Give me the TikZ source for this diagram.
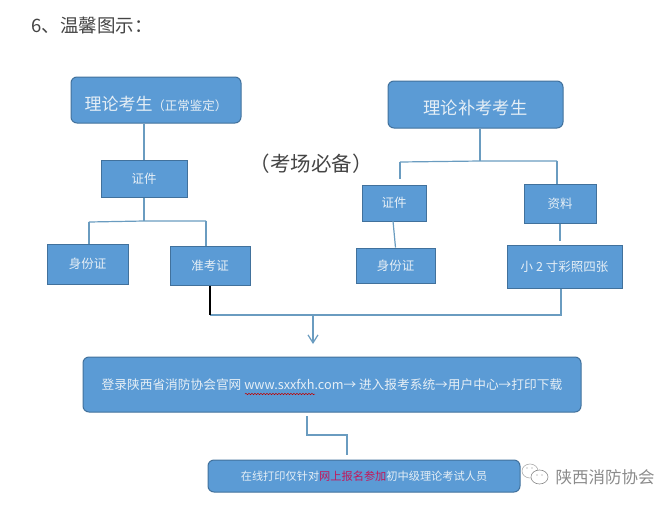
\documentclass[tikz,border=0pt]{standalone}
\usepackage{fontspec}
\setmainfont{Noto Sans CJK SC}
\usetikzlibrary{decorations.pathmorphing,arrows.meta}
\definecolor{boxblue}{HTML}{5B9BD5}
\definecolor{boxedge}{HTML}{41719C}
\definecolor{lineblue}{HTML}{6A9CC0}
\definecolor{boxtext}{HTML}{E6EFF6}
\definecolor{darktext}{HTML}{444444}
\definecolor{logogray}{HTML}{8A8A8A}
\definecolor{signred}{HTML}{C2185B}
\tikzset{
    sharpbox/.style={draw=boxedge, line width=1pt, fill=boxblue, text=boxtext, inner sep=0pt, align=center, font=\fontsize{12.5}{15}\selectfont},
    roundbox/.style={sharpbox, rounded corners=6pt},
    conn/.style={draw=lineblue, line width=1.2pt}
}
\begin{document}
\begin{tikzpicture}[x=1pt, y=-1pt]
    \useasboundingbox (0,0) rectangle (662,512);
    \node[text=darktext, font=\fontsize{18.5}{22}\selectfont, anchor=west] (title) at (28,25) {6、温馨图示：};
    \node[text=darktext, font=\fontsize{20.5}{24}\selectfont] (bring) at (311,164) {（考场必备）};
    % left column
    \node[roundbox, minimum width=170pt, minimum height=46pt, text height=21pt, text depth=0pt] (lilun) at (156,100) {\fontsize{17}{20}\selectfont 理论考生\fontsize{12.5}{14}\selectfont （正常鉴定）};
    \node[sharpbox, minimum width=86pt, minimum height=37pt] (zhengjian) at (144,178.5) {证件};
    \node[sharpbox, minimum width=81pt, minimum height=40pt] (shenfen) at (87.5,264) {身份证};
    \node[sharpbox, minimum width=80pt, minimum height=39pt] (zhunkao) at (210,265.5) {准考证};
    % right column
    \node[roundbox, minimum width=175pt, minimum height=47pt, text height=20pt, text depth=0pt] (bukao) at (475.5,104.5) {\fontsize{17.3}{20}\selectfont 理论补考考生};
    \node[sharpbox, minimum width=64pt, minimum height=36pt] (zhengjianb) at (394,203) {证件};
    \node[sharpbox, minimum width=79pt, minimum height=35pt] (shenfenb) at (395.5,265.5) {身份证};
    \node[sharpbox, minimum width=72pt, minimum height=39pt] (ziliao) at (560,203.5) {资料};
    \node[sharpbox, minimum width=115pt, minimum height=43pt] (photo) at (564.5,266.5) {小 2 寸彩照四张};
    % bottom
    \node[roundbox, minimum width=498pt, minimum height=55pt, font=\fontsize{12.7}{15}\selectfont] (login) at (332,384.5) {登录陕西省消防协会官网 www.sxxfxh.com→ 进入报考系统→用户中心→打印下载};
    \node[roundbox, minimum width=312pt, minimum height=32pt, font=\fontsize{11.2}{14}\selectfont] (online) at (364,476) {在线打印仅针对{\color{signred}网上报名参加}初中级理论考试人员};
    \draw[red!75!black, line width=0.5pt, decorate, decoration={snake, amplitude=0.7pt, segment length=3pt}] (245,394) -- (315,394);

    % left connectors
    \coordinate (ltee) at (144,221);
    \coordinate (lleft) at (89,222);
    \coordinate (lright) at (206,221);
    \draw[conn] (lilun.south -| zhengjian.north) -- (zhengjian.north);
    \draw[conn] (zhengjian.south) -- (ltee);
    \draw[conn] (lleft) -- (ltee) -- (lright);
    \draw[conn] (lleft) -- (lleft |- shenfen.north);
    \draw[conn] (lright) -- (lright |- zhunkao.north);
    % right connectors
    \coordinate (rtee) at (480,161);
    \coordinate (rleft) at (400,162);
    \coordinate (rright) at (557,161);
    \coordinate (rleftend) at (400,179);
    \coordinate (zlend) at (560,241);
    \draw[conn] (bukao.south -| rtee) -- (rtee);
    \draw[conn] (rleft) -- (rtee) -- (rright);
    \draw[conn] (rleft) -- (rleftend);
    \draw[conn] (rright) -- (rright |- ziliao.north);
    \draw[conn] (393,221) -- (shenfenb.north);
    \draw[conn] (ziliao.south) -- (zlend);
    % join
    \coordinate (jright) at (561,315);
    \coordinate (jleft) at (210,315);
    \coordinate (arrowtop) at (313,316);
    \coordinate (arrowend) at (313,344);
    \draw[conn] (photo.south -| jright) -- (jright) -- (jleft);
    \draw[black, line width=1.2pt] (zhunkao.south) -- (jleft);
    \draw[conn, -{Straight Barb[length=8pt,width=10pt]}] (arrowtop) -- (arrowend);
    \coordinate (downtop) at (307,416);
    \coordinate (downmid) at (307,435);
    \coordinate (downend) at (347,455);
    \draw[conn] (downtop) -- (downmid) -- (downmid -| downend) -- (downend);
    % logo
    \draw[logogray!70, line width=0.6pt, fill=white] (530,471) ellipse [x radius=8, y radius=7];
    \draw[logogray, line width=0.6pt, fill=white] (539.5,477) ellipse [x radius=8.5, y radius=7];
    \foreach \Eye in {(527,468), (532,468), (537,475), (542,475)}{
        \fill[logogray] \Eye circle (0.6);
    }
    \node[text=logogray, font=\fontsize{16.5}{20}\selectfont, anchor=west] (logotext) at (552,477) {陕西消防协会};
\end{tikzpicture}
\end{document}
